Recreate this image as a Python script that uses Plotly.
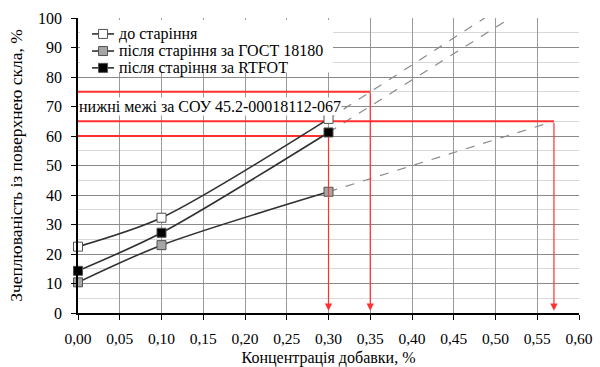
import plotly.graph_objects as go

x_conc = [0.00, 0.10, 0.30]
y_before = [22.5, 32.3, 65.8]
y_gost = [10.4, 23.0, 41.1]
y_rtfot = [14.3, 27.2, 61.2]

# extrapolated (dashed) segments
ext_before_x = [0.30, 0.487]
ext_before_y = [65.8, 100.0]
ext_rtfot_x = [0.30, 0.518]
ext_rtfot_y = [61.2, 100.0]
ext_gost_x = [0.30, 0.57]
ext_gost_y = [41.1, 65.0]

# limit lines (lower limits) and the concentrations they give
limit_y = [75, 65, 60]
limit_x = [0.35, 0.57, 0.30]

names = ["до старіння", "після старіння за ГОСТ 18180", "після старіння за RTFOT"]
fills = ["white", "#a6a6a6", "black"]

FONT = "Liberation Serif"
LINE_C = "#303030"
EDGE_C = "#505050"
fig = go.Figure()

# dashed extrapolations
for ex, ey in [(ext_before_x, ext_before_y), (ext_rtfot_x, ext_rtfot_y), (ext_gost_x, ext_gost_y)]:
    fig.add_trace(go.Scatter(x=ex, y=ey, mode="lines", showlegend=False,
                             line=dict(color="#8a8a8a", width=1.2, dash="dash"),
                             hoverinfo="skip"))

# red limit lines
for lx, ly in zip(limit_x, limit_y):
    fig.add_trace(go.Scatter(x=[0, lx], y=[ly, ly], mode="lines", showlegend=False,
                             line=dict(color="#ff3030", width=1.8), hoverinfo="skip"))
    fig.add_annotation(x=lx, y=0.8, ax=lx, ay=ly, xref="x", yref="y", axref="x", ayref="y",
                       showarrow=True, arrowhead=2, arrowsize=1.2, arrowwidth=1.2,
                       arrowcolor="#ff3030", text="")

# data series
for yv, nm, fc in zip([y_before, y_gost, y_rtfot], names, fills):
    fig.add_trace(go.Scatter(x=x_conc, y=yv, name=nm, mode="lines+markers", cliponaxis=False,
                             showlegend=False,
                             line=dict(color=LINE_C, width=1.6, shape="spline", smoothing=0.8),
                             marker=dict(symbol="square", size=9, color=fc,
                                         line=dict(color=EDGE_C, width=1))))

fig.add_annotation(x=0.0, y=70, xref="x", yref="y", xanchor="left", yanchor="middle",
                   text="нижні межі за СОУ 45.2-00018112-067", showarrow=False,
                   bgcolor="white", font=dict(family=FONT, size=16, color="black"),
                   borderpad=0)

# legend drawn as layout decoration (compact, like the original)
fig.add_shape(type="rect", xref="paper", yref="paper", x0=0.004, x1=0.509, y0=0.815, y1=0.993,
              fillcolor="white", line=dict(width=0), layer="above")
row_y = [0.946, 0.888, 0.831]
for ry, nm, fc in zip(row_y, names, fills):
    fig.add_shape(type="line", xref="paper", yref="paper", x0=0.028, x1=0.072, y0=ry, y1=ry,
                  line=dict(color=LINE_C, width=1.6), layer="above")
    fig.add_shape(type="rect", xref="paper", yref="paper", xsizemode="pixel", ysizemode="pixel",
                  xanchor=0.050, yanchor=ry, x0=-4.5, x1=4.5, y0=-4.5, y1=4.5,
                  fillcolor=fc, line=dict(color=EDGE_C, width=1), layer="above")
    fig.add_annotation(x=0.078, y=ry, xref="paper", yref="paper", xanchor="left", yanchor="middle",
                       text=nm, showarrow=False, font=dict(family=FONT, size=16, color="black"))

fig.update_layout(
    width=600, height=367,
    margin=dict(l=78, r=21, t=18, b=54),
    plot_bgcolor="white", paper_bgcolor="white",
    separators=", ",
    showlegend=False,
    font=dict(family=FONT, size=15, color="black"),
    xaxis=dict(range=[0, 0.6], dtick=0.05, tick0=0, tickformat=".2f", automargin=False,
               showgrid=True, gridcolor="#9a9a9a", gridwidth=1,
               showline=True, linecolor="black", linewidth=1.5,
               ticks="outside", ticklen=5, tickcolor="black",
               ticklabelstandoff=6, zeroline=False, tickfont=dict(size=15.5),
               title=dict(text="Концентрація добавки, %", font=dict(family=FONT, size=16), standoff=9)),
    yaxis=dict(range=[0, 100], dtick=10, tick0=0, automargin=False,
               showgrid=True, gridcolor="#8a8a8a", gridwidth=1,
               minor=dict(dtick=5, showgrid=True, gridcolor="#d8d8d8", gridwidth=1),
               showline=True, linecolor="black", linewidth=1.5,
               ticks="outside", ticklen=5, tickcolor="black",
               ticklabelstandoff=6, zeroline=False, tickfont=dict(size=16),
               title=dict(text="Зчеплюваність із поверхнею скла, %", font=dict(family=FONT, size=17.5), standoff=11)),
)

fig.write_html("out.html")
